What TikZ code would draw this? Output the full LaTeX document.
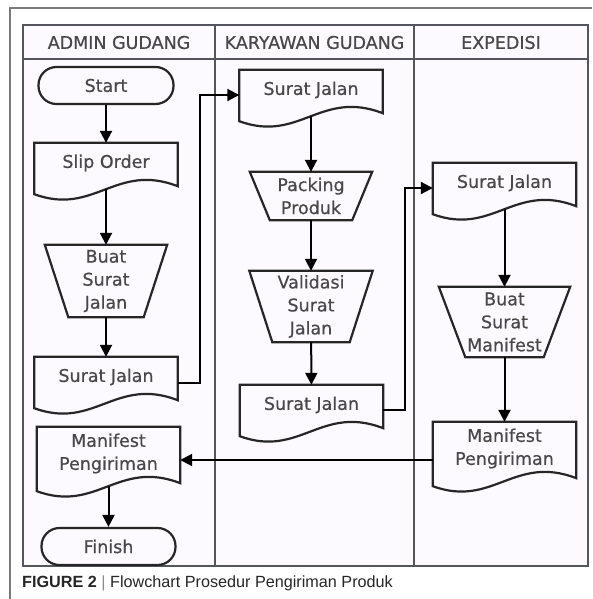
\documentclass[tikz,border=0pt]{standalone}
\usepackage{fontspec}
\setmainfont[FakeBold=0.6]{DejaVu Sans}
\newfontfamily\capfont{Liberation Sans}
\usetikzlibrary{arrows.meta}

\definecolor{txtgray}{HTML}{484848}
\definecolor{lanegray}{HTML}{55555F}
\definecolor{lanefill}{HTML}{FCFAFE}
\definecolor{framegray}{HTML}{7A7A7A}

\begin{document}
\begin{tikzpicture}
  [x=1pt,y=-1pt,>={Triangle[length=12pt,width=12pt]},
   every node/.style={text=txtgray,inner sep=0pt,align=center,font=\fontsize{17.5}{23}\selectfont},
   lane/.style={draw=lanegray,line width=2.6pt},
   outline/.style={draw=black!85,line width=2.2pt,line join=miter},
   term/.style={outline,rounded corners=18pt,minimum width=135pt,minimum height=37pt},
   doc/.style={minimum width=143pt,minimum height=40pt,inner ysep=6.5pt},
   flow/.style={->,draw=black,line width=2pt}]
  \useasboundingbox[fill=white] (0,0) rectangle (592,599);
  \draw[framegray,line width=1.2pt] (10,599) -- (10,8) -- (592,8);

  % lanes
  \fill[lanefill] (23,25) rectangle (588,566);
  \draw[lane] (23,25) rectangle (588,566);
  \draw[lane] (23,59) -- (588,59);
  \draw[lane] (215,25) -- (215,566);
  \draw[lane] (414,25) -- (414,566);
  \node (hadmin) at (119,42.5)   {ADMIN GUDANG};
  \node (hkary)  at (314.5,42.5) {KARYAWAN GUDANG};
  \node (hexp)   at (501,42.5)   {EXPEDISI};

  % admin gudang
  \node[term] (start) at (106,85.5) {Start};
  \node[doc] (slip) at (106,163) {Slip Order};
  \node[minimum width=122pt,minimum height=72pt] (buat) at (106,281) {Buat\\Surat\\Jalan};
  \node[doc] (sj1) at (106,377) {Surat Jalan};
  \node[doc] (man1) at (108.5,453.5) {Manifest\\Pengiriman};
  \node[term,minimum width=134pt] (finish) at (108.5,546.5) {Finish};

  % karyawan gudang
  \node[doc] (sja) at (311,90) {Surat Jalan};
  \node[minimum width=122pt,minimum height=48pt] (pack) at (311,196) {Packing\\Produk};
  \node[minimum width=123pt,minimum height=71pt] (val) at (311,306.5) {Validasi\\Surat\\Jalan};
  \node[doc] (sjb) at (311.5,405) {Surat Jalan};

  % expedisi
  \node[doc] (sjc) at (504.5,183) {Surat Jalan};
  \node[minimum width=131pt,minimum height=70pt] (buatm) at (504.5,322) {Buat\\Surat\\Manifest};
  \node[doc] (man3) at (504.5,448.5) {Manifest\\Pengiriman};

  \foreach \n in {slip,sj1,man1,sja,sjb,sjc,man3}
    \draw[outline] ([yshift=-11pt]\n.south west) -- (\n.north west) -- (\n.north east)
      -- ([yshift=-3pt]\n.south east) .. controls +(-62,-24) and +(60,22) .. ([yshift=-11pt]\n.south west) -- cycle;
  \foreach \n/\s in {buat/23.5,pack/20,val/23,buatm/26.5}
    \draw[outline] (\n.north west) -- (\n.north east) -- ([xshift=-\s pt]\n.south east)
      -- ([xshift=\s pt]\n.south west) -- cycle;

  \foreach \from/\to in {start/slip,buat/sj1,pack/val,val/sjb,buatm/man3}
    \draw[flow] (\from) -- (\to);
  \foreach \from/\to in {slip/buat,man1/finish,sja/pack,sjc/buatm}
    \draw[flow] ([yshift=-6pt]\from.south) -- (\to.north);

  \draw[flow] ([yshift=-6pt]sj1.east) -- ++(22.5,0) |- ([yshift=-5pt]sja.west);
  \draw[flow] ([yshift=-5pt]sjb.east) -- ++(22,0) |- ([yshift=-5pt]sjc.west);
  \coordinate (m3out) at ([yshift=-11.5pt]man3.west);
  \draw[flow] (m3out) -- (m3out -| man1.east);

  \node[anchor=base west,text=black!85,font=\capfont\fontsize{16.2}{18}\selectfont] (cap) at (22,587)
    {\textbf{FIGURE 2} \textcolor{black!45}{|} Flowchart Prosedur Pengiriman Produk};
\end{tikzpicture}
\end{document}
